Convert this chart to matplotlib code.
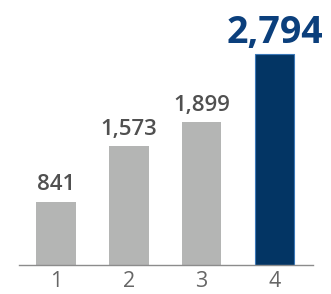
"""Four-bar chart with the last bar highlighted."""

import matplotlib
matplotlib.use('Agg')
import matplotlib.pyplot as plt

categories = ['1', '2', '3', '4']
values = [841, 1573, 1899, 2794]
value_labels = ['841', '1,573', '1,899', '2,794']

grey = '#b4b5b4'
navy = '#033564'

fig = plt.figure(figsize=(3.31, 2.94), dpi=100)
ax = fig.add_axes([19 / 331, 29 / 294, 294 / 331, 264 / 294])

x = range(len(categories))
colors = [grey, grey, grey, navy]
bars = ax.bar(x, values, width=0.54, color=colors, zorder=2)
bars[-1].set_edgecolor('#3b78b8')
bars[-1].set_linewidth(0.8)

for i, (v, lab) in enumerate(zip(values, value_labels)):
    if i == len(values) - 1:
        ax.annotate(lab, (i, v), textcoords='offset points', xytext=(0, 8.5),
                    ha='center', va='baseline', fontsize=27, fontweight='bold',
                    color='#0b3f7c', family='Open Sans')
    else:
        ax.annotate(lab, (i, v), textcoords='offset points', xytext=(0, 8),
                    ha='center', va='baseline', fontsize=16, fontweight=600,
                    color='#505050', family='Open Sans')

ax.set_xlim(-0.51, 3.53)
ax.set_ylim(0, 3501)
ax.set_xticks(list(x))
ax.set_xticklabels(categories, fontsize=15.5, color='#666666', family='Open Sans')
ax.tick_params(axis='x', length=0, pad=4.5)
ax.set_yticks([])

for side in ['top', 'right', 'left']:
    ax.spines[side].set_visible(False)
ax.spines['bottom'].set_color('#8c8c8c')
ax.spines['bottom'].set_linewidth(1.0)
ax.patch.set_alpha(0)

fig.savefig('out.png', dpi=100)
